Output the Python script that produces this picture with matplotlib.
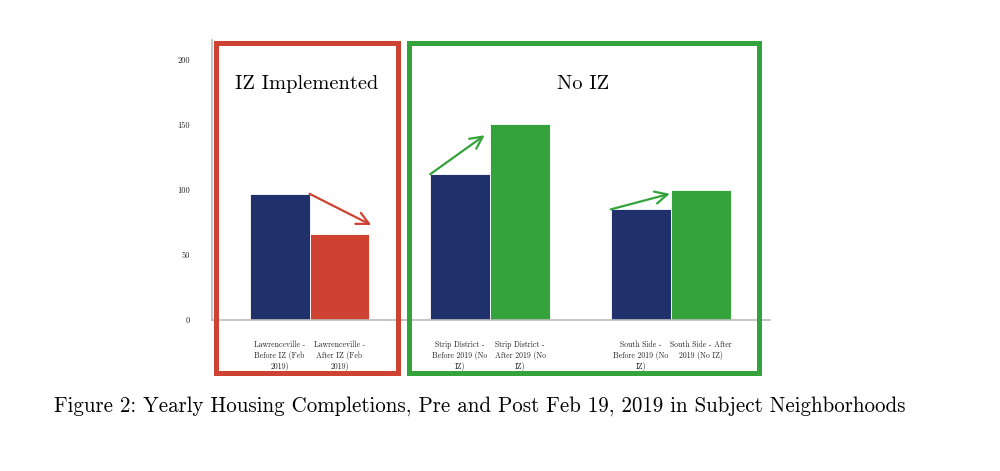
import numpy as np
import matplotlib
matplotlib.use('Agg')
import matplotlib.pyplot as plt
from matplotlib.patches import Rectangle

plt.rcParams['font.family'] = ['cmr10', 'DejaVu Serif']
plt.rcParams['axes.formatter.use_mathtext'] = True

# data
groups = ['Lawrenceville', 'Strip District', 'South Side']
before = [97, 112, 85]
after = [66, 151, 100]
labels = ["Lawrenceville -\nBefore IZ (Feb\n2019)", "Lawrenceville -\nAfter IZ (Feb\n2019)",
          "Strip District -\nBefore 2019 (No\nIZ)", "Strip District -\nAfter 2019 (No\nIZ)",
          "South Side -\nBefore 2019 (No\nIZ)", "South Side - After\n2019 (No IZ)"]
yticks = [0, 50, 100, 150, 200]

navy = '#1f306b'
red = '#cd4230'
green = '#35a33c'
after_cols = [red, green, green]

fig = plt.figure(figsize=(10, 4.71), dpi=100)
ax = fig.add_axes([0.212, 0.3206, 0.558, 0.594])

x = np.arange(len(groups))
w = 0.332
ax.bar(x - w/2, before, w, color=navy, edgecolor='white', linewidth=0.6)
ax.bar(x + w/2, after, w, color=after_cols, edgecolor='white', linewidth=0.6)

ax.set_xlim(-0.54, 2.55)
ax.set_ylim(0, 215)
ax.set_yticks(yticks)
ax.set_yticklabels([str(t) for t in yticks], fontsize=6)
ticks = np.ravel(np.column_stack([x - w/2, x + w/2]))
ax.set_xticks(ticks)
ax.set_xticklabels(labels, fontsize=5.6, linespacing=1.22, va='top')
ax.tick_params(axis='y', length=0, pad=16, colors='#222222')
ax.tick_params(axis='x', length=0, pad=15, colors='#222222')
for s in ['top', 'right']:
    ax.spines[s].set_visible(False)
for s in ['left', 'bottom']:
    ax.spines[s].set_color('#bbbbbb')
    ax.spines[s].set_linewidth(1.2)

# change arrows: start at the before bar, end near the after bar
arrow_start = [(x[0], before[0]), (x[1] - w, before[1]), (x[2] - w, before[2])]
arrow_end = [(x[0] + w + 0.01, after[0] + 7), (x[1] - 0.03, after[1] - 9), (x[2] - 0.005, after[2] - 3)]
for (sx, sy), (ex, ey), c in zip(arrow_start, arrow_end, after_cols):
    ax.annotate('', xy=(ex, ey), xytext=(sx, sy),
                arrowprops=dict(arrowstyle='->', color=c, lw=1.6,
                                mutation_scale=22, shrinkA=0, shrinkB=0))

# group boxes (figure pixels / size)
def fig_rect(x0, y0, x1, y1, col):
    r = Rectangle((x0 / 1000, 1 - y1 / 471), (x1 - x0) / 1000, (y1 - y0) / 471,
                  transform=fig.transFigure, fill=False, edgecolor=col, linewidth=3.6)
    fig.patches.append(r)

fig_rect(215.5, 43, 397.5, 372.5, red)
fig_rect(408.5, 43, 758.5, 372.5, green)

fig.text(0.307, 1 - 84 / 471, 'IZ Implemented', fontsize=14.7, ha='center', va='center')
fig.text(0.583, 1 - 84 / 471, 'No IZ', fontsize=14.7, ha='center', va='center')

fig.text(0.48, 1 - 406 / 471,
         'Figure 2: Yearly Housing Completions, Pre and Post Feb 19, 2019 in Subject Neighborhoods',
         fontsize=15.05, ha='center', va='center')

fig.savefig('out.png', dpi=100)
